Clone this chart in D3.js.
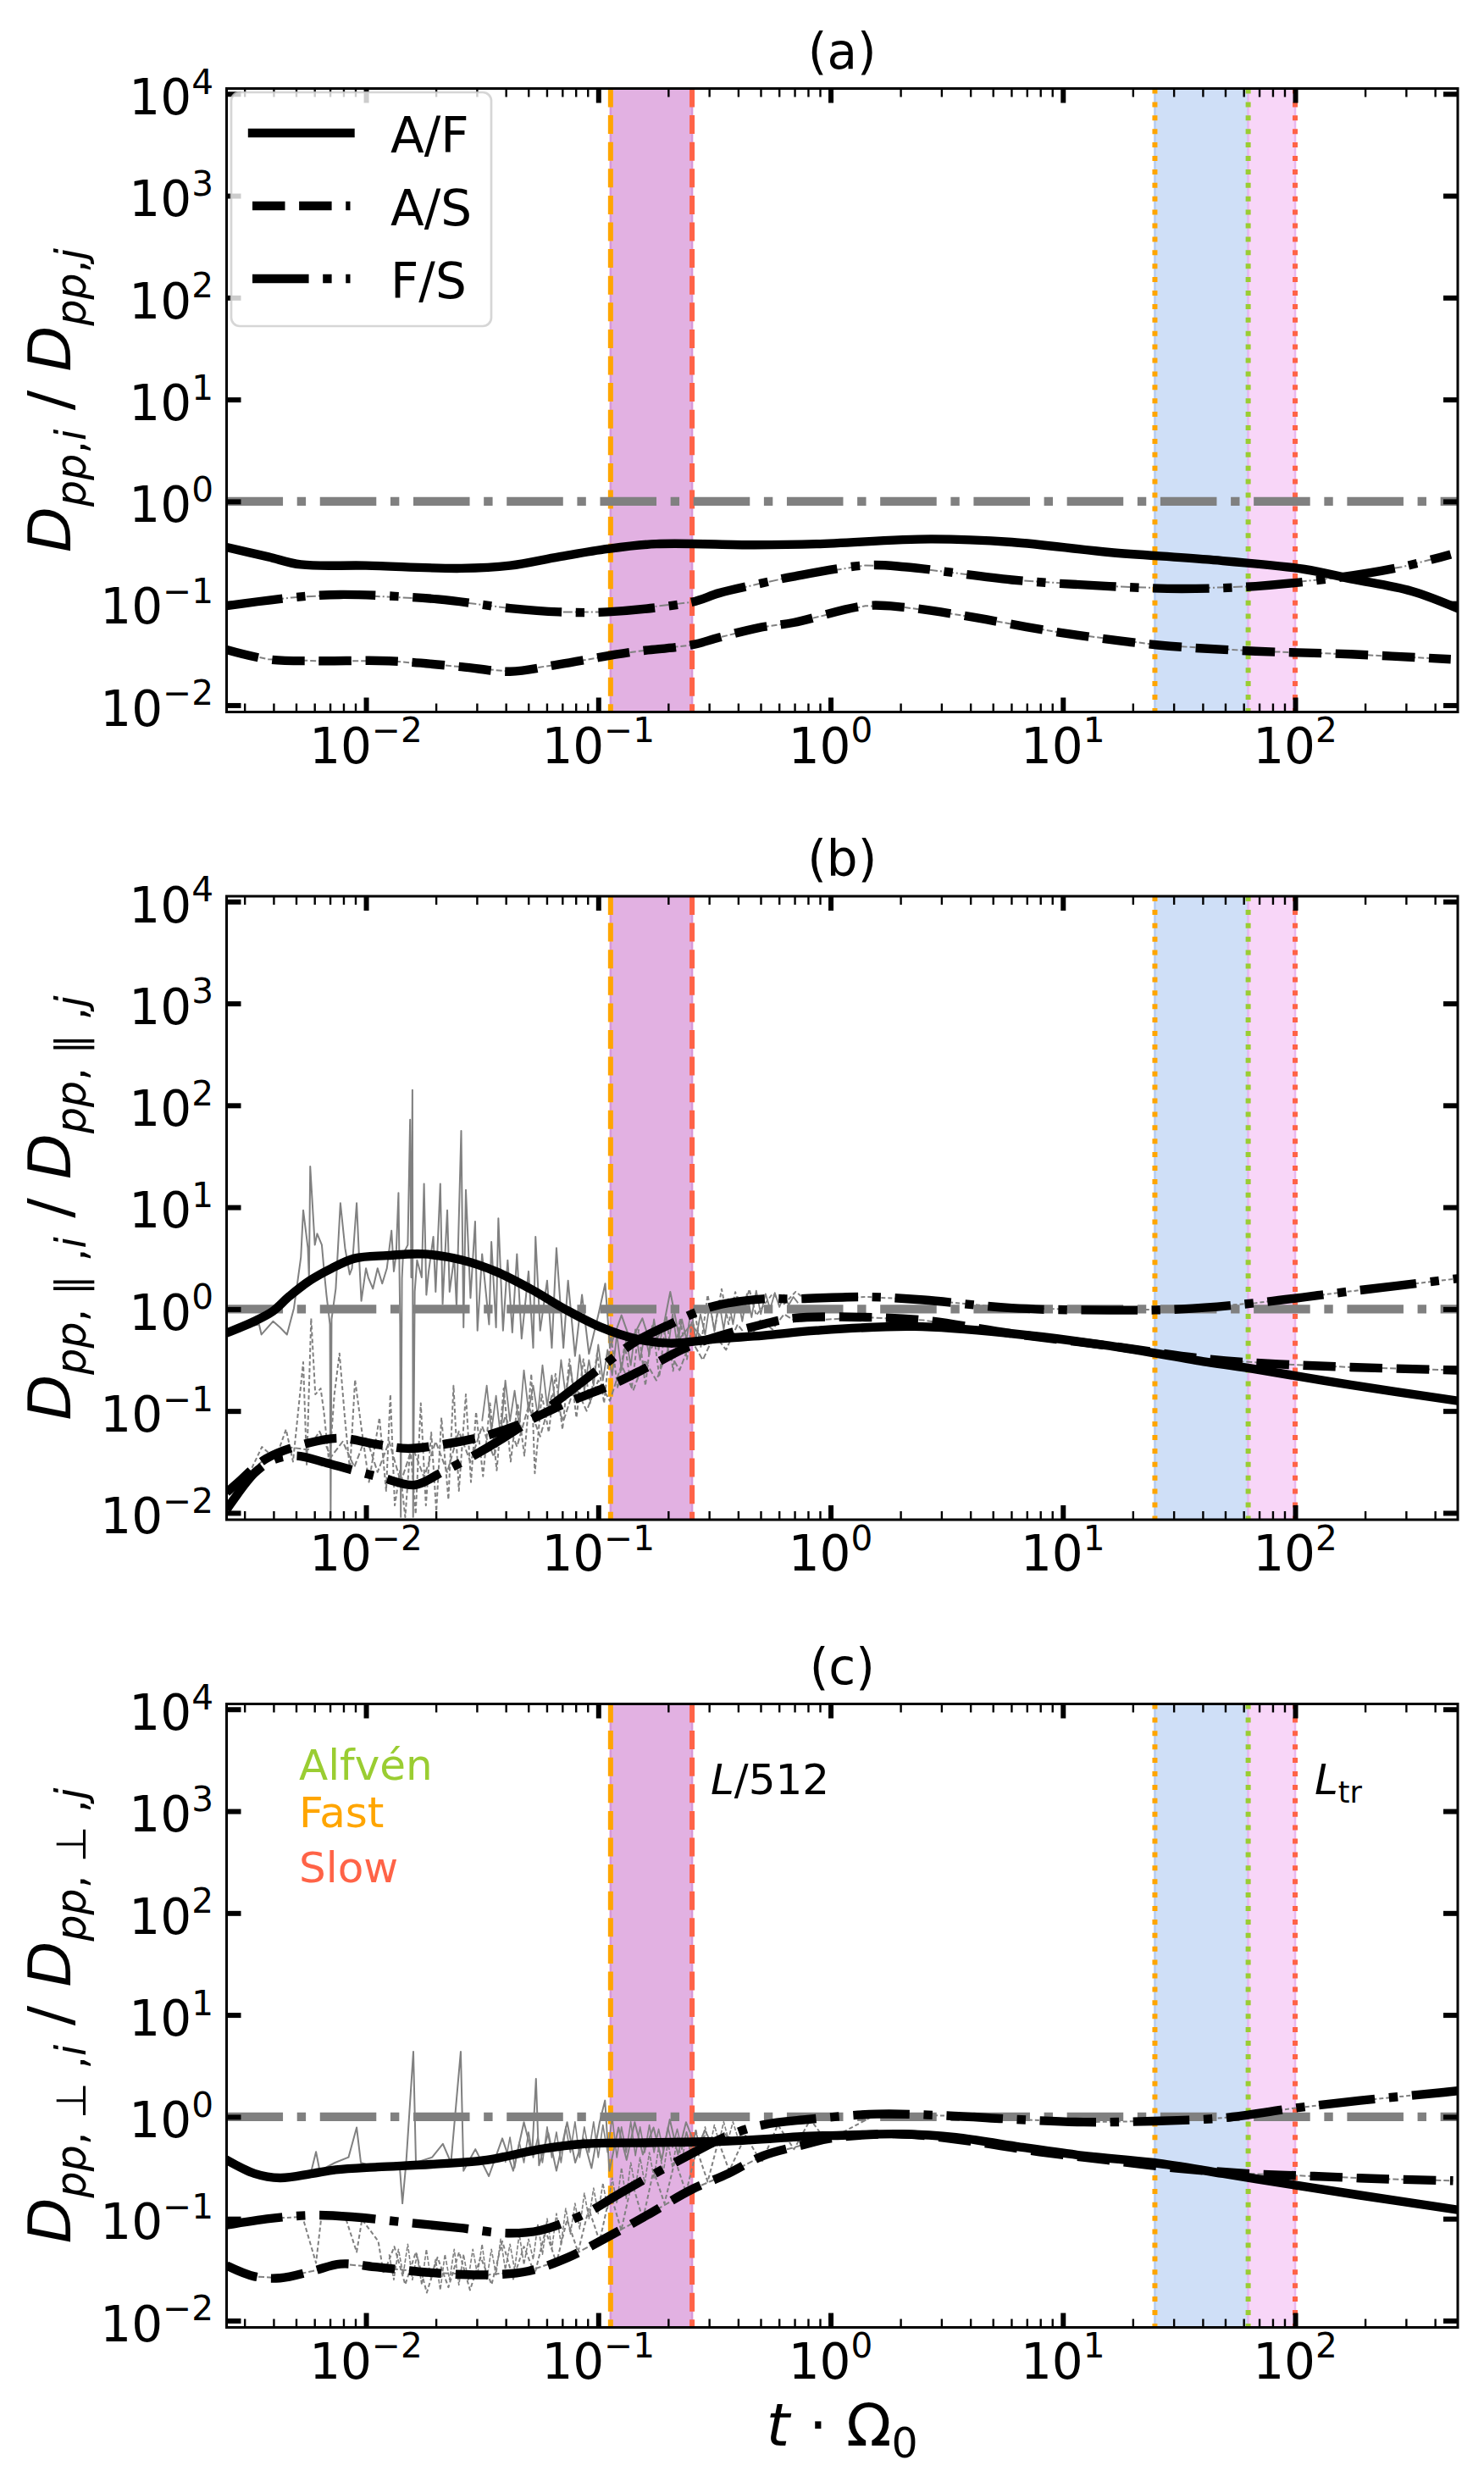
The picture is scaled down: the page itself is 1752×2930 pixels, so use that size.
<!DOCTYPE html>
<html>
<head>
<meta charset="utf-8">
<script src="https://cdn.jsdelivr.net/npm/d3@7"></script>
<style>
  body { margin: 0; background: #fff; }
  svg { display: block; }
</style>
</head>
<body>
<div id="chart"></div>
<script>
// Diffusion-coefficient ratios, three panels (total, parallel, perpendicular).
// Every point is read off the picture and stored as
// [log10(t * Omega0), log10(D_i / D_j)].

// ---- panel (a): total ----
const afA = [[-2.6,-0.45],[-2.42,-0.545],[-2.28,-0.62],[-2.0,-0.63],[-1.59,-0.657],[-1.38,-0.63],
  [-1.17,-0.545],[-0.96,-0.466],[-0.75,-0.418],[-0.33,-0.427],[-0.06,-0.418],[0.43,-0.37],[0.78,-0.40],
  [1.2,-0.5],[1.62,-0.57],[2.04,-0.666],[2.24,-0.76],[2.5,-0.88],[2.7,-1.05]];
const asA = [[-2.6,-1.456],[-2.42,-1.55],[-2.21,-1.566],[-1.9,-1.566],[-1.59,-1.623],[-1.38,-1.67],
  [-1.17,-1.6],[-0.86,-1.48],[-0.6,-1.41],[-0.48,-1.336],[-0.31,-1.24],[-0.16,-1.19],[0.15,-1.025],
  [0.32,-1.04],[0.57,-1.12],[0.99,-1.288],[1.41,-1.41],[1.83,-1.47],[2.24,-1.5],[2.67,-1.55]];
const fsA = [[-2.6,-1.025],[-2.32,-0.944],[-2.11,-0.915],[-1.69,-0.96],[-1.38,-1.049],[-1.17,-1.085],
  [-0.96,-1.085],[-0.6,-0.99],[-0.48,-0.9],[-0.31,-0.81],[-0.16,-0.737],[0.15,-0.628],[0.32,-0.643],
  [0.78,-0.77],[1.2,-0.833],[1.51,-0.857],[1.83,-0.833],[2.18,-0.75],[2.46,-0.643],[2.67,-0.52]];

// ---- panel (b): parallel ----
const afB = [[-2.6,-0.234],[-2.48,-0.119],[-2.4,-0.019],[-2.33,0.125],[-2.24,0.282],[-2.15,0.397],
  [-2.05,0.497],[-1.91,0.526],[-1.75,0.54],[-1.59,0.483],[-1.44,0.368],[-1.29,0.196],[-1.14,-0.005],
  [-0.99,-0.177],[-0.84,-0.291],[-0.69,-0.335],[-0.48,-0.29],[-0.29,-0.26],[-0.06,-0.21],[0.36,-0.17],
  [0.78,-0.24],[1.2,-0.36],[1.62,-0.52],[1.83,-0.59],[2.24,-0.745],[2.7,-0.9]];
const asB = [[-2.6,-1.80],[-2.55,-1.70],[-2.43,-1.468],[-2.24,-1.31],[-2.11,-1.267],[-1.96,-1.325],
  [-1.82,-1.368],[-1.66,-1.325],[-1.5,-1.253],[-1.33,-1.124],[-1.14,-0.923],[-0.95,-0.751],[-0.77,-0.55],
  [-0.59,-0.349],[-0.29,-0.148],[-0.16,-0.09],[0.15,-0.08],[0.4,-0.11],[0.78,-0.24],[1.2,-0.36],
  [1.62,-0.49],[1.93,-0.54],[2.24,-0.57],[2.7,-0.6]];
const fsB = [[-2.6,-1.97],[-2.57,-1.87],[-2.48,-1.61],[-2.4,-1.48],[-2.3,-1.44],[-2.17,-1.51],
  [-2.03,-1.597],[-1.93,-1.655],[-1.79,-1.726],[-1.68,-1.61],[-1.56,-1.468],[-1.41,-1.267],[-1.24,-1.009],
  [-1.09,-0.751],[-0.96,-0.521],[-0.84,-0.32],[-0.69,-0.148],[-0.51,0.024],[-0.29,0.1],[-0.16,0.1],
  [0.15,0.12],[0.4,0.09],[0.78,0.01],[1.2,-0.01],[1.51,0.0],[1.83,0.06],[2.24,0.175],[2.7,0.3]];
// noisy raw (unsmoothed) traces of panel (b)
const rawAfB = [[-2.60,-0.21],[-2.46,-0.15],[-2.45,-0.25],[-2.40,-0.12],[-2.37,-0.18],[-2.34,-0.25],
  [-2.31,0.01],[-2.28,0.51],[-2.27,0.97],[-2.25,0.60],[-2.245,0.31],[-2.24,1.40],[-2.22,0.63],[-2.21,0.74],
  [-2.19,0.63],[-2.18,0.37],[-2.17,0.14],[-2.155,-0.15],[-2.152,-2.04],[-2.148,-0.1],[-2.13,0.20],
  [-2.11,1.04],[-2.09,0.60],[-2.07,0.34],[-2.06,0.40],[-2.04,1.04],[-2.03,0.54],[-2.02,0.08],[-2.00,0.40],
  [-1.99,0.31],[-1.97,0.20],[-1.95,0.40],[-1.93,0.25],[-1.91,0.40],[-1.89,0.77],[-1.88,0.37],[-1.87,0.54],
  [-1.86,1.14],[-1.853,-0.15],[-1.85,-2.04],[-1.845,0.3],[-1.84,0.54],[-1.82,0.63],[-1.81,1.86],
  [-1.805,0.31],[-1.80,2.15],[-1.797,-2.04],[-1.79,0.17],[-1.78,0.48],[-1.76,0.31],[-1.75,1.23],
  [-1.74,0.14],[-1.73,0.37],[-1.71,0.71],[-1.70,0.17],[-1.68,1.23],[-1.67,0.05],[-1.65,0.97],[-1.64,0.17],
  [-1.62,0.51],[-1.61,0.02],[-1.59,1.75],[-1.58,-0.18],[-1.57,1.17],[-1.55,0.11],[-1.53,0.86],[-1.52,-0.21],
  [-1.50,0.54],[-1.47,-0.15],[-1.46,0.66],[-1.44,-0.18],[-1.43,0.89],[-1.41,-0.21],[-1.39,0.48],
  [-1.37,-0.23],[-1.35,0.54],[-1.33,-0.29],[-1.30,0.37],[-1.28,-0.38],[-1.27,0.71],[-1.25,-0.21],
  [-1.22,0.28],[-1.20,-0.38],[-1.18,0.60],[-1.15,-0.38],[-1.13,0.28],[-1.10,-0.46],[-1.07,0.14],
  [-1.04,-0.44],[-1.00,-0.06],[-0.97,0.25],[-0.95,-0.38],[-0.90,-0.06],[-0.86,-0.32],[-0.81,-0.09],
  [-0.77,-0.38],[-0.72,-0.18],[-0.69,0.17],[-0.65,-0.29],[-0.60,-0.15],[-0.54,-0.32]];
const rawLowB = [[-2.567,-1.841],[-2.508,-1.64],[-2.448,-1.353],[-2.389,-1.468],[-2.344,-1.181],
  [-2.314,-1.497],[-2.27,-0.521],[-2.255,-1.526],[-2.236,-0.091],[-2.218,-0.837],[-2.195,-0.779],
  [-2.181,-1.009],[-2.158,-1.526],[-2.136,-0.837],[-2.114,-0.435],[-2.091,-1.066],[-2.069,-1.583],
  [-2.047,-0.693],[-2.017,-1.21],[-1.987,-1.698],[-1.942,-1.066],[-1.913,-1.784],[-1.895,-0.837],
  [-1.876,-1.927],[-1.853,-1.583],[-1.831,-2.042],[-1.809,-1.353],[-1.786,-2.013],[-1.764,-0.923],
  [-1.742,-1.927],[-1.719,-1.21],[-1.697,-1.985],[-1.675,-1.066],[-1.645,-1.87],[-1.623,-0.751],
  [-1.6,-1.784],[-1.57,-0.837],[-1.548,-1.698],[-1.526,-1.009],[-1.496,-1.64],[-1.466,-0.923],
  [-1.437,-1.583],[-1.407,-0.779],[-1.377,-1.497],[-1.347,-0.923],[-1.318,-1.439],[-1.288,-0.636],
  [-1.273,-1.611],[-1.243,-0.837],[-1.213,-1.21],[-1.184,-0.636],[-1.154,-1.181],[-1.124,-0.492],
  [-1.094,-1.066],[-1.064,-0.492],[-1.035,-0.923],[-1.005,-0.435],[-0.975,-0.923],[-0.945,-0.263],
  [-0.916,-0.779],[-0.886,-0.349],[-0.856,-0.779],[-0.826,-0.205],[-0.797,-0.751],[-0.767,-0.148],
  [-0.737,-0.665],[-0.707,-0.062],[-0.678,-0.607],[-0.648,-0.091],[-0.618,-0.492],[-0.588,0.024],
  [-0.559,-0.378],[-0.529,0.139],[-0.499,-0.205],[-0.469,0.196],[-0.439,-0.148],[-0.41,0.168],
  [-0.38,-0.091],[-0.35,0.196],[-0.32,-0.062],[-0.25,0.15],[-0.2,0.05],[-0.15,0.17],[-0.1,0.08],
  [-0.05,0.14],[0.0,0.1]];
const rawAsB = [[-2.6,-1.8],[-2.45,-1.5],[-2.35,-1.35],[-2.25,-1.38],[-2.2,-1.2],[-2.15,-1.45],[-2.1,-1.3],
  [-2.05,-1.55],[-2.0,-1.25],[-1.95,-1.6],[-1.9,-1.3],[-1.85,-1.7],[-1.8,-1.35],[-1.75,-1.65],[-1.7,-1.3],
  [-1.65,-1.6],[-1.6,-1.2],[-1.55,-1.5],[-1.5,-1.15],[-1.45,-1.45],[-1.4,-1.05],[-1.35,-1.35],[-1.3,-0.95],
  [-1.25,-1.25],[-1.2,-0.85],[-1.15,-1.1],[-1.1,-0.75],[-1.05,-1.0],[-1.0,-0.7],[-0.95,-0.9],[-0.9,-0.55],
  [-0.85,-0.8],[-0.8,-0.5],[-0.75,-0.7],[-0.7,-0.4],[-0.65,-0.6],[-0.6,-0.3],[-0.55,-0.5],[-0.5,-0.25],
  [-0.45,-0.4],[-0.4,-0.15],[-0.35,-0.3],[-0.3,-0.1],[-0.25,-0.2],[-0.2,-0.05],[-0.15,-0.12]];
const rawFsB = [[-1.50,-1.10],[-1.48,-0.75],[-1.46,-1.2],[-1.44,-0.85],[-1.42,-1.25],[-1.40,-0.7],
  [-1.38,-1.1],[-1.36,-0.8],[-1.34,-1.15],[-1.32,-0.6],[-1.30,-1.0],[-1.28,-0.75],[-1.26,-1.05],
  [-1.24,-0.55],[-1.22,-0.95],[-1.20,-0.65],[-1.18,-1.0],[-1.16,-0.5],[-1.14,-0.85],[-1.12,-0.55],
  [-1.10,-0.9],[-1.08,-0.45],[-1.06,-0.8],[-1.04,-0.5],[-1.02,-0.75],[-1.00,-0.35],[-0.98,-0.7],
  [-0.96,-0.4],[-0.94,-0.65],[-0.92,-0.25],[-0.90,-0.6],[-0.88,-0.3],[-0.86,-0.55],[-0.84,-0.2],
  [-0.82,-0.5],[-0.80,-0.25],[-0.78,-0.45],[-0.76,-0.1],[-0.74,-0.4],[-0.72,-0.15],[-0.70,-0.4],
  [-0.68,-0.05],[-0.66,-0.35],[-0.64,-0.1],[-0.62,-0.3],[-0.60,0.0],[-0.58,-0.3],[-0.56,-0.05],
  [-0.54,-0.25],[-0.52,0.05],[-0.50,-0.22],[-0.48,0.08],[-0.46,-0.2],[-0.44,0.1],[-0.42,-0.15],
  [-0.40,0.12],[-0.38,-0.12],[-0.36,0.15],[-0.34,-0.08],[-0.32,0.18],[-0.30,-0.05],[-0.28,0.15],
  [-0.26,0.0],[-0.24,0.16],[-0.22,0.02],[-0.20,0.14],[-0.18,0.04],[-0.16,0.12],[-0.14,0.06]];

// ---- panel (c): perpendicular ----
const afC = [[-2.6,-0.424],[-2.48,-0.557],[-2.37,-0.6],[-2.23,-0.557],[-2.13,-0.52],[-1.95,-0.493],
  [-1.72,-0.467],[-1.48,-0.424],[-1.25,-0.318],[-1.06,-0.265],[-0.79,-0.254],[-0.44,-0.238],[-0.09,-0.19],
  [0.0,-0.185],[0.3,-0.169],[0.54,-0.201],[0.8,-0.291],[1.09,-0.382],[1.39,-0.45],[1.69,-0.557],
  [1.98,-0.663],[2.28,-0.77],[2.7,-0.913]];
const asC = [[-2.6,-1.46],[-2.48,-1.567],[-2.37,-1.583],[-2.23,-1.514],[-2.11,-1.444],[-1.95,-1.476],
  [-1.72,-1.53],[-1.48,-1.551],[-1.3,-1.514],[-1.13,-1.38],[-0.95,-1.168],[-0.79,-0.966],[-0.6,-0.716],
  [-0.44,-0.557],[-0.29,-0.382],[-0.1,-0.265],[0.0,-0.211],[0.3,-0.169],[0.6,-0.238],[0.9,-0.344],
  [1.19,-0.424],[1.49,-0.504],[1.79,-0.557],[2.08,-0.583],[2.38,-0.61],[2.68,-0.627]];
const fsC = [[-2.6,-1.063],[-2.41,-0.998],[-2.23,-0.966],[-2.06,-0.982],[-1.83,-1.036],[-1.6,-1.089],
  [-1.39,-1.142],[-1.25,-1.115],[-1.06,-0.955],[-0.9,-0.743],[-0.67,-0.45],[-0.44,-0.185],[-0.29,-0.079],
  [-0.1,-0.026],[0.2,0.027],[0.5,0.011],[0.8,-0.026],[1.09,-0.052],[1.39,-0.042],[1.69,-0.011],
  [1.98,0.08],[2.28,0.16],[2.64,0.24],[2.7,0.255]];
const rawAfC = [[-2.6,-0.45],[-2.48,-0.583],[-2.37,-0.60],[-2.238,-0.557],[-2.215,-0.344],[-2.199,-0.53],
  [-2.133,-0.45],[-2.075,-0.397],[-2.04,-0.105],[-2.022,-0.45],[-1.947,-0.504],[-1.855,-0.477],
  [-1.843,-0.85],[-1.827,-0.45],[-1.796,0.64],[-1.785,-0.45],[-1.715,-0.397],[-1.669,-0.265],
  [-1.634,-0.45],[-1.592,0.64],[-1.58,-0.53],[-1.529,-0.318],[-1.471,-0.583],[-1.413,-0.212],
  [-1.366,-0.53],[-1.32,-0.053],[-1.285,-0.37],[-1.268,0.373],[-1.255,-0.477],[-1.215,-0.159],
  [-1.18,-0.53],[-1.134,-0.053],[-1.099,-0.45],[-1.064,-0.212],[-1.029,-0.504],[-0.994,-0.053],
  [-0.971,0.16],[-0.952,-0.53],[-0.913,-0.105],[-0.878,-0.424],[-0.843,-0.053],[-0.808,-0.37],
  [-0.762,-0.105],[-0.727,-0.424],[-0.692,-0.026],[-0.657,-0.37],[-0.622,-0.053],[-0.576,-0.318],
  [-0.541,-0.132],[-0.506,-0.291],[-0.459,-0.159],[-0.413,-0.265]];
const rawAf2C = [[-1.40,-0.45],[-1.38,-0.2],[-1.36,-0.5],[-1.34,-0.25],[-1.32,-0.45],[-1.30,-0.15],
  [-1.28,-0.4],[-1.26,-0.2],[-1.24,-0.45],[-1.22,-0.1],[-1.20,-0.4],[-1.18,-0.15],[-1.16,-0.45],
  [-1.14,-0.1],[-1.12,-0.35],[-1.10,-0.05],[-1.08,-0.4],[-1.06,-0.1],[-1.04,-0.35],[-1.02,-0.05],
  [-1.00,-0.4],[-0.98,-0.08],[-0.96,-0.35],[-0.94,0.0],[-0.92,-0.4],[-0.90,-0.1],[-0.88,-0.35],
  [-0.86,-0.05],[-0.84,-0.38],[-0.82,-0.1],[-0.80,-0.35],[-0.78,-0.08],[-0.76,-0.35],[-0.74,-0.12],
  [-0.72,-0.33],[-0.70,-0.1],[-0.68,-0.3],[-0.66,-0.12],[-0.64,-0.32],[-0.62,-0.15],[-0.60,-0.3],
  [-0.58,-0.15],[-0.56,-0.3],[-0.54,-0.18]];
const rawLowC = [[-2.273,-0.982],[-2.215,-1.434],[-2.192,-0.982],[-2.087,-0.998],[-2.04,-1.327],
  [-2.017,-1.008],[-1.947,-1.221],[-1.924,-1.54],[-1.878,-1.274],[-1.831,-1.646],[-1.785,-1.327],
  [-1.738,-1.726],[-1.692,-1.38],[-1.645,-1.673],[-1.599,-1.327],[-1.552,-1.70],[-1.506,-1.38],
  [-1.459,-1.646],[-1.413,-1.221],[-1.366,-1.593],[-1.32,-1.274],[-1.273,-1.54],[-1.227,-1.115],
  [-1.18,-1.434],[-1.134,-1.008],[-1.087,-1.327],[-1.041,-0.903],[-0.994,-1.221],[-0.948,-0.744],
  [-0.901,-1.115],[-0.855,-0.637],[-0.808,-1.008],[-0.762,-0.53],[-0.715,-0.85],[-0.669,-0.424],
  [-0.622,-0.743],[-0.576,-0.318],[-0.529,-0.637],[-0.483,-0.238],[-0.436,-0.53],[-0.366,-0.185],
  [-0.297,-0.45],[-0.227,-0.079],[-0.157,-0.318],[-0.087,-0.026],[-0.018,-0.238]];
const rawLow2C = [[-1.90,-1.35],[-1.88,-1.6],[-1.86,-1.3],[-1.84,-1.55],[-1.82,-1.25],[-1.80,-1.6],
  [-1.78,-1.35],[-1.76,-1.65],[-1.74,-1.3],[-1.72,-1.6],[-1.70,-1.4],[-1.68,-1.7],[-1.66,-1.35],
  [-1.64,-1.6],[-1.62,-1.3],[-1.60,-1.65],[-1.58,-1.35],[-1.56,-1.6],[-1.54,-1.3],[-1.52,-1.55],
  [-1.50,-1.25],[-1.48,-1.6],[-1.46,-1.3],[-1.44,-1.55],[-1.42,-1.2],[-1.40,-1.5],[-1.38,-1.25],
  [-1.36,-1.5],[-1.34,-1.15],[-1.32,-1.45],[-1.30,-1.2],[-1.28,-1.4],[-1.26,-1.05],[-1.24,-1.35],
  [-1.22,-1.0],[-1.20,-1.3],[-1.18,-0.95],[-1.16,-1.25],[-1.14,-0.9],[-1.12,-1.15],[-1.10,-0.85],
  [-1.08,-1.1],[-1.06,-0.75],[-1.04,-1.0],[-1.02,-0.7],[-1.00,-0.95],[-0.98,-0.65],[-0.96,-0.9],
  [-0.94,-0.6],[-0.92,-0.85],[-0.90,-0.5],[-0.88,-0.8],[-0.86,-0.45],[-0.84,-0.7],[-0.82,-0.4],
  [-0.80,-0.65],[-0.78,-0.35],[-0.76,-0.6],[-0.74,-0.3],[-0.72,-0.55],[-0.70,-0.25],[-0.68,-0.5],
  [-0.66,-0.2],[-0.64,-0.45],[-0.62,-0.15],[-0.60,-0.4],[-0.58,-0.12],[-0.56,-0.35],[-0.54,-0.1],
  [-0.52,-0.3],[-0.50,-0.08],[-0.48,-0.25],[-0.46,-0.05],[-0.44,-0.22],[-0.42,-0.05],[-0.40,-0.2]];

// characteristic times (t * Omega0)
const smallScale = [0.113, 0.2535];      // L/512: Fast, Slow
const largeScale = [24.9, 62.8, 100];     // L_tr: Fast, Alfven, Slow

const xDomain = [Math.pow(10, -2.6), Math.pow(10, 2.7)];
const yDomain = [Math.pow(10, -2.067), Math.pow(10, 4.052)];
const tExp = [-2, -1, 0, 1, 2];
const dExp = [-2, -1, 0, 1, 2, 3, 4];
const titles = ["(a)", "(b)", "(c)"];
const legendLabels = ["A/F", "A/S", "F/S"];
const waveNames = ["Alfvén", "Fast", "Slow"];

// ---------------------------------------------------------------
const W = 1752, H = 2930;
const axLeft = 267.5, axRight = 1721;
const panelTops = [104.5, 1058, 2011.5];
const panelH = 736;
const FONT = "'DejaVu Sans', 'Liberation Sans', sans-serif";
const GRAY = "#808080";
const ALF = "#9acd32", FAST = "#ffa500", SLOW = "#ff6347";
const LW = 10.4;
const DASH = [3.7 * LW, 1.6 * LW].join(",");
const DASHDOT = [6.4 * LW, 1.6 * LW, LW, 1.6 * LW].join(",");

const svg = d3.select("#chart").append("svg")
  .attr("width", W).attr("height", H)
  .attr("viewBox", `0 0 ${W} ${H}`)
  .style("font-family", FONT);
svg.append("rect").attr("width", W).attr("height", H).attr("fill", "#fff");

const x = d3.scaleLog().domain(xDomain).range([axLeft, axRight]);

// text with italic parts, sub- and superscripts
function rich(sel, parts, size, subDrop) {
  let shift = 0;
  parts.forEach(p => {
    const target = p.sub ? size * (subDrop || 0.22) : p.sup ? -size * 0.42 : 0;
    sel.append("tspan")
      .attr("dy", target - shift)
      .attr("font-size", (p.sub || p.sup) ? size * 0.7 : size)
      .attr("font-style", p.it ? "italic" : "normal")
      .text(p.t);
    shift = target;
  });
  return sel;
}
function pow10(e) {
  return [{t: "10"}, {t: String(e).replace("-", "\u2212"), sup: true}];
}

const yLabels = [
  [{t: "D", it: 1}, {t: "pp", it: 1, sub: 1}, {t: ",", sub: 1}, {t: "i", it: 1, sub: 1}, {t: " / "},
   {t: "D", it: 1}, {t: "pp", it: 1, sub: 1}, {t: ",", sub: 1}, {t: "j", it: 1, sub: 1}],
  [{t: "D", it: 1}, {t: "pp", it: 1, sub: 1}, {t: ", \u2225 ,", sub: 1}, {t: "i", it: 1, sub: 1}, {t: " / "},
   {t: "D", it: 1}, {t: "pp", it: 1, sub: 1}, {t: ", \u2225 ,", sub: 1}, {t: "j", it: 1, sub: 1}],
  [{t: "D", it: 1}, {t: "pp", it: 1, sub: 1}, {t: ", \u22a5 ,", sub: 1}, {t: "i", it: 1, sub: 1}, {t: " / "},
   {t: "D", it: 1}, {t: "pp", it: 1, sub: 1}, {t: ", \u22a5 ,", sub: 1}, {t: "j", it: 1, sub: 1}]
];

function drawPanel(i, series, raws) {
  const top = panelTops[i], bottom = top + panelH;
  const y = d3.scaleLog().domain(yDomain).range([bottom, top]);
  const smooth = d3.line().curve(d3.curveCatmullRom.alpha(0.5))
    .x(d => x(Math.pow(10, d[0]))).y(d => y(Math.pow(10, d[1])));
  const rough = d3.line()
    .x(d => x(Math.pow(10, d[0]))).y(d => y(Math.pow(10, d[1])));

  svg.append("clipPath").attr("id", "clip" + i)
    .append("rect").attr("x", axLeft).attr("y", top)
    .attr("width", axRight - axLeft).attr("height", panelH);
  const plot = svg.append("g").attr("clip-path", `url(#clip${i})`);

  // shaded ranges
  const band = (a, b, fill, edge) => {
    plot.append("rect").attr("x", x(a)).attr("y", top)
      .attr("width", x(b) - x(a)).attr("height", panelH)
      .attr("fill", fill).attr("stroke", edge).attr("stroke-width", 2.5);
  };
  band(smallScale[0], smallScale[1], "#e2b1e2", "#d898d8");
  band(largeScale[0], largeScale[1], "#cfdff7", "#b5cdf3");
  band(largeScale[1], largeScale[2], "#f8d6f8", "#eab8f0");

  // characteristic times
  const vline = (t, color, dash) => {
    plot.append("line").attr("x1", x(t)).attr("x2", x(t)).attr("y1", top).attr("y2", bottom)
      .attr("stroke", color).attr("stroke-width", 6).attr("stroke-dasharray", dash);
  };
  vline(smallScale[0], FAST, "22,9.6");
  vline(smallScale[1], SLOW, "22,9.6");
  vline(largeScale[0], FAST, "6,9.9");
  vline(largeScale[1], ALF, "6,9.9");
  vline(largeScale[2], SLOW, "6,9.9");

  // unity line
  plot.append("line").attr("x1", axLeft).attr("x2", axRight)
    .attr("y1", y(1)).attr("y2", y(1))
    .attr("stroke", GRAY).attr("stroke-width", LW).attr("stroke-dasharray", DASHDOT);

  // raw traces
  raws.forEach(r => {
    plot.append("path").attr("d", rough(r.d)).attr("fill", "none")
      .attr("stroke", GRAY).attr("stroke-width", r.w || 2)
      .attr("stroke-dasharray", r.dash || null).attr("stroke-linejoin", "round");
  });

  // smoothed ratios
  const styles = [null, DASH, DASHDOT];
  series.forEach((s, k) => {
    plot.append("path").attr("d", smooth(s)).attr("fill", "none")
      .attr("stroke", "#000").attr("stroke-width", LW)
      .attr("stroke-dasharray", styles[k])
      .attr("stroke-linecap", k === 0 ? "square" : "butt");
  });

  // ticks (inward, all four sides)
  const tMajor = tExp.map(e => Math.pow(10, e));
  const tMinor = [];
  for (let e = -3; e <= 2; e++) for (let m = 2; m <= 9; m++) {
    const v = m * Math.pow(10, e);
    if (v > xDomain[0] * 1.01 && v < xDomain[1] * 0.99) tMinor.push(v);
  }
  const dMajor = dExp.map(e => Math.pow(10, e));
  const styleAxis = (g, w) => {
    g.select(".domain").remove();
    g.selectAll(".tick line").attr("stroke", "#000").attr("stroke-width", w);
    g.selectAll(".tick text").remove();
  };
  svg.append("g").attr("transform", `translate(0,${bottom})`)
    .call(d3.axisBottom(x).tickValues(tMajor).tickSize(-17)).call(g => styleAxis(g, 6));
  svg.append("g").attr("transform", `translate(0,${bottom})`)
    .call(d3.axisBottom(x).tickValues(tMinor).tickSize(-10)).call(g => styleAxis(g, 2.4));
  svg.append("g").attr("transform", `translate(0,${top})`)
    .call(d3.axisTop(x).tickValues(tMajor).tickSize(-17)).call(g => styleAxis(g, 6));
  svg.append("g").attr("transform", `translate(0,${top})`)
    .call(d3.axisTop(x).tickValues(tMinor).tickSize(-10)).call(g => styleAxis(g, 2.4));
  svg.append("g").attr("transform", `translate(${axLeft},0)`)
    .call(d3.axisLeft(y).tickValues(dMajor).tickSize(-17)).call(g => styleAxis(g, 6));
  svg.append("g").attr("transform", `translate(${axRight},0)`)
    .call(d3.axisRight(y).tickValues(dMajor).tickSize(-17)).call(g => styleAxis(g, 6));

  // frame
  svg.append("rect").attr("x", axLeft).attr("y", top)
    .attr("width", axRight - axLeft).attr("height", panelH)
    .attr("fill", "none").attr("stroke", "#000").attr("stroke-width", 3);

  // tick labels
  tExp.forEach(e => {
    rich(svg.append("text").attr("x", x(Math.pow(10, e))).attr("y", bottom + 60)
      .attr("text-anchor", "middle").style("white-space", "pre"), pow10(e), 58);
  });
  dExp.forEach(e => {
    rich(svg.append("text").attr("x", 252).attr("y", y(Math.pow(10, e)) + 24.3)
      .attr("text-anchor", "end").style("white-space", "pre"), pow10(e), 58);
  });

  // title and y label
  svg.append("text").attr("x", (axLeft + axRight) / 2).attr("y", top - 24)
    .attr("text-anchor", "middle").attr("font-size", 58).text(titles[i]);
  rich(svg.append("text").attr("text-anchor", "middle").style("white-space", "pre")
    .attr("transform", `translate(83,${top + panelH / 2}) rotate(-90)`), yLabels[i], 70, 0.25);

  return y;
}

// panel (a)
drawPanel(0, [afA, asA, fsA], [
  {d: afA}, {d: asA, dash: "7,3"}, {d: fsA, dash: "11,3,2,3"}
]);
// panel (b)
drawPanel(1, [afB, asB, fsB], [
  {d: rawAfB.concat(afB.filter(d => d[0] > -0.5))},
  {d: rawAsB.concat(asB.filter(d => d[0] > -0.1)), dash: "7,3"},
  {d: rawLowB.concat(fsB.filter(d => d[0] > 0.05)), dash: "5,3"},
  {d: rawFsB, w: 1.8}
]);
// panel (c)
drawPanel(2, [afC, asC, fsC], [
  {d: rawAfC.concat(afC.filter(d => d[0] > -0.4))},
  {d: rawAf2C, w: 1.6},
  {d: asC, dash: "7,3"},
  {d: fsC.filter(d => d[0] < -2.28).concat(rawLowC, fsC.filter(d => d[0] > 0)), dash: "5,3"},
  {d: rawLow2C, w: 1.6, dash: "5,2"}
]);

// legend in panel (a)
const leg = svg.append("g");
leg.append("rect").attr("x", 273).attr("y", 109).attr("width", 307).attr("height", 276)
  .attr("rx", 10).attr("fill", "#fff").attr("fill-opacity", 0.8)
  .attr("stroke", "#cccccc").attr("stroke-opacity", 0.8).attr("stroke-width", 2.7);
const legDash = [null, DASH, DASHDOT];
legendLabels.forEach((lab, k) => {
  const cy = 157 + k * 86;
  leg.append("line").attr("x1", 298).attr("x2", 413.5).attr("y1", cy).attr("y2", cy)
    .attr("stroke", "#000").attr("stroke-width", LW)
    .attr("stroke-dasharray", legDash[k]).attr("stroke-linecap", k === 0 ? "square" : "butt");
  leg.append("text").attr("x", 461).attr("y", cy + 22.5).attr("font-size", 58).text(lab);
});

// annotations in panel (c)
const topC = panelTops[2];
[ALF, FAST, SLOW].forEach((c, k) => {
  svg.append("text").attr("x", 353).attr("y", topC + [89.5, 145.5, 210.5][k])
    .attr("font-size", 50).attr("fill", c).text(waveNames[k]);
});
rich(svg.append("text").attr("x", 839).attr("y", topC + 106.5).style("white-space", "pre"),
  [{t: "L", it: 1}, {t: "/512"}], 50);
rich(svg.append("text").attr("x", 1552).attr("y", topC + 106.5).style("white-space", "pre"),
  [{t: "L", it: 1}, {t: "tr", sub: 1}], 50, 0.2);

// x label
rich(svg.append("text").attr("x", (axLeft + axRight) / 2).attr("y", 2887)
  .attr("text-anchor", "middle").style("white-space", "pre"),
  [{t: "t", it: 1}, {t: " \u22c5 "}, {t: "\u03a9"}, {t: "0", sub: 1}], 70, 0.2);
</script>
</body>
</html>
